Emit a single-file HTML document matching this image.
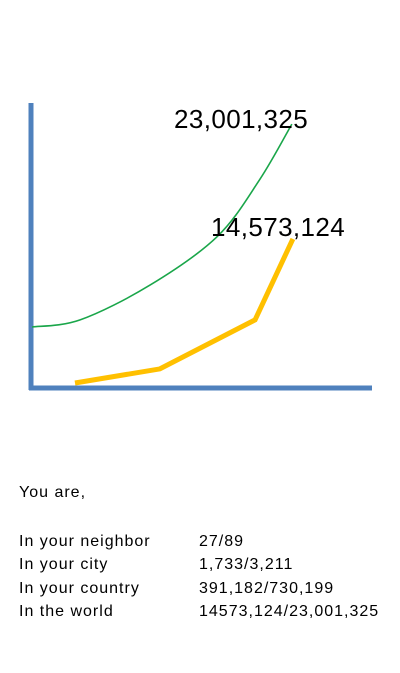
<!DOCTYPE html>
<html><head><meta charset="utf-8"><style>
body{margin:0;width:400px;height:673px;background:#fff;overflow:hidden;font-family:"Liberation Sans",sans-serif}
svg{position:absolute;left:0;top:0}
</style></head><body>
<svg width="400" height="673">
<g id="marks"></g>
<text x="174" y="128" font-size="26" letter-spacing="0.4" fill="#000">23,001,325</text>
<text x="211" y="236" font-size="26" letter-spacing="0.4" fill="#000">14,573,124</text>
<g font-size="16" letter-spacing="1" fill="#000">
<text x="19" y="497">You are,</text>
<text x="19" y="546">In your neighbor</text>
<text x="199" y="546">27/89</text>
<text x="19" y="569">In your city</text>
<text x="199" y="569">1,733/3,211</text>
<text x="19" y="593">In your country</text>
<text x="199" y="593">391,182/730,199</text>
<text x="19" y="616">In the world</text>
<text x="199" y="616">14573,124/23,001,325</text>
</g>
</svg>
<script>
const greenX=[0.03,1.44,3.49,5.45,6.7,7.65];
const greenY=[21.4,23.9,36.1,53,73,92.6];
const orangeX=[1.29,3.78,6.57,7.68];
const orangeY=[1.75,6.7,23.9,52.3];
const sx=v=>31+v*34.1, sy=v=>388-v*2.85;
const ns="http://www.w3.org/2000/svg";
const g=document.getElementById('marks');
function mk(t,a){const e=document.createElementNS(ns,t);for(const k in a)e.setAttribute(k,a[k]);g.appendChild(e);return e;}
let ya=mk('line',{x1:31,y1:103,x2:31,y2:390,stroke:'#4f81bd','stroke-width':5});


let xa=mk('line',{x1:29,y1:388,x2:372,y2:388,stroke:'#4f81bd','stroke-width':5});


const gp=greenX.map((x,i)=>[sx(x),sy(greenY[i])]);
let d='M'+gp[0][0]+','+gp[0][1];
for(let i=0;i<gp.length-1;i++){const p0=gp[Math.max(0,i-1)],p1=gp[i],p2=gp[i+1],p3=gp[Math.min(gp.length-1,i+2)];
d+=' C'+(p1[0]+(p2[0]-p0[0])/6)+','+(p1[1]+(p2[1]-p0[1])/6)+' '+(p2[0]-(p3[0]-p1[0])/6)+','+(p2[1]-(p3[1]-p1[1])/6)+' '+p2[0]+','+p2[1];}
let gl=mk('path',{d:d,fill:'none',stroke:'#1aa64a','stroke-width':1.6});


let ol=mk('polyline',{points:orangeX.map((x,i)=>sx(x)+','+sy(orangeY[i])).join(' '),fill:'none',stroke:'#ffc000','stroke-width':5});


</script>
</body></html>
